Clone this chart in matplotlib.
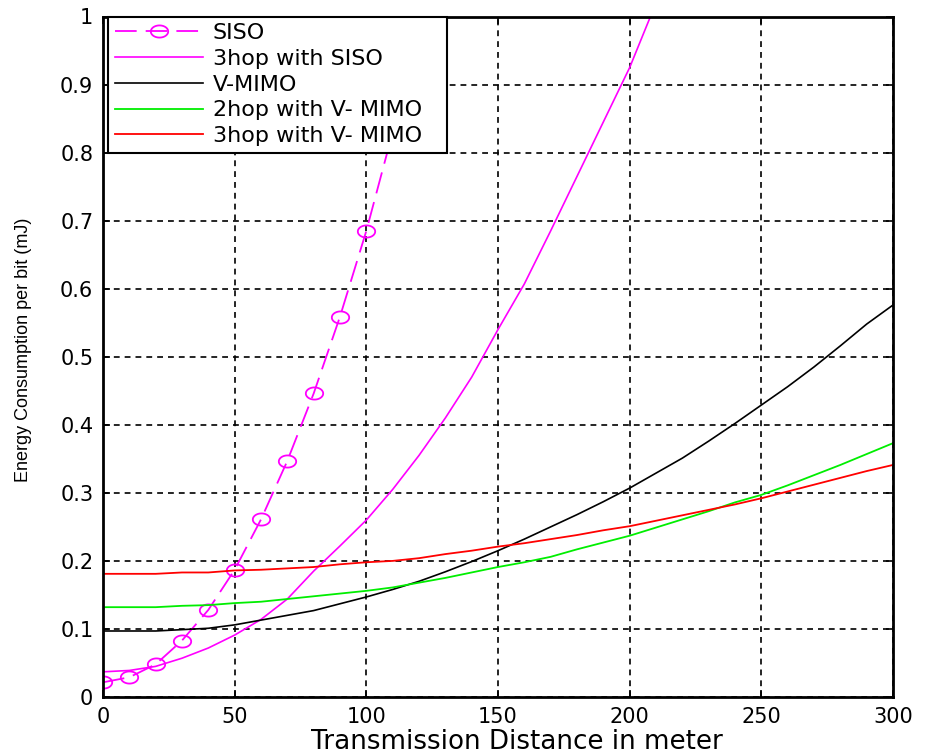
import numpy as np
import matplotlib
matplotlib.use("Agg")
import matplotlib.pyplot as plt
from matplotlib.path import Path
from matplotlib import font_manager
from matplotlib.ticker import FixedLocator, FuncFormatter

# ---------------- data ----------------
siso_x = [0, 10, 20, 30, 40, 50, 60, 70, 80, 90, 100, 110, 120, 130]
siso_y = [0.0216, 0.029, 0.048, 0.083, 0.128, 0.187, 0.261, 0.347, 0.446,
          0.559, 0.685, 0.83, 0.99, 1.16]

dist = list(range(0, 301, 10))

hop3_siso_x = list(range(0, 221, 10))
hop3_siso_y = [0.037, 0.039, 0.045, 0.057, 0.072, 0.091, 0.114, 0.144, 0.185,
               0.222, 0.26, 0.305, 0.355, 0.41, 0.47, 0.54, 0.607, 0.685,
               0.765, 0.845, 0.925, 1.02, 1.12]

vmimo_y = [0.097, 0.097, 0.097, 0.099, 0.101, 0.106, 0.113, 0.120, 0.127,
           0.137, 0.147, 0.158, 0.170, 0.184, 0.199, 0.215, 0.232, 0.250,
           0.268, 0.287, 0.307, 0.329, 0.351, 0.376, 0.402, 0.429, 0.456,
           0.485, 0.516, 0.548, 0.576]

hop2_vmimo_y = [0.132, 0.132, 0.132, 0.134, 0.135, 0.138, 0.140, 0.144, 0.148,
                0.152, 0.156, 0.161, 0.168, 0.175, 0.183, 0.191, 0.198, 0.206,
                0.217, 0.227, 0.237, 0.249, 0.261, 0.273, 0.286, 0.297, 0.311,
                0.326, 0.341, 0.357, 0.373]

hop3_vmimo_y = [0.181, 0.181, 0.181, 0.183, 0.183, 0.186, 0.187, 0.189, 0.191,
                0.195, 0.198, 0.200, 0.204, 0.210, 0.215, 0.221, 0.226, 0.232,
                0.238, 0.245, 0.251, 0.259, 0.267, 0.275, 0.283, 0.292, 0.302,
                0.312, 0.322, 0.332, 0.341]

labels = ["SISO", "3hop with SISO", "V-MIMO", "2hop with V- MIMO", "3hop with V- MIMO"]
x_ticks = [0, 50, 100, 150, 200, 250, 300]
y_ticks = [0, 0.1, 0.2, 0.3, 0.4, 0.5, 0.6, 0.7, 0.8, 0.9, 1.0]

# ---------------- style ----------------
plt.rcParams['font.family'] = ['DejaVu Sans']

names = {f.name for f in font_manager.fontManager.ttflist}
if 'Liberation Sans Narrow' in names:
    ylab_family, ylab_size = 'Liberation Sans Narrow', 15
else:
    ylab_family, ylab_size = 'Liberation Sans', 13

# elliptical open marker (reference circles are stretched horizontally)
t = np.linspace(0, 2 * np.pi, 60)
ell = Path(np.column_stack([np.cos(t), 0.7 * np.sin(t)]), closed=True)

fig = plt.figure(figsize=(9.3, 7.55), dpi=100)
ax = fig.add_axes([103 / 930, 1 - 697 / 755, 790 / 930, 680.5 / 755])

MAG = '#ff00ff'
ax.plot(siso_x, siso_y, color=MAG, lw=1.3, dashes=(12, 5), marker=ell,
        ms=12.5, mfc='none', mec=MAG, mew=1.3, label=labels[0])
ax.plot(hop3_siso_x, hop3_siso_y, color=MAG, lw=1.2, label=labels[1])
ax.plot(dist, vmimo_y, color='black', lw=1.2, label=labels[2])
ax.plot(dist, hop2_vmimo_y, color='#00ee00', lw=1.3, label=labels[3])
ax.plot(dist, hop3_vmimo_y, color='#ff0000', lw=1.3, label=labels[4])

ax.set_xlim(0, 300)
ax.set_ylim(0, 1)
ax.xaxis.set_major_locator(FixedLocator(x_ticks))
ax.yaxis.set_major_locator(FixedLocator(y_ticks))
ax.yaxis.set_major_formatter(FuncFormatter(lambda v, p: f"{v:g}"))

ax.grid(True, color='black', linestyle=(0, (3.5, 3)), linewidth=1.2)
ax.tick_params(direction='in', length=5, width=1.2, top=True, right=True,
               labelsize=15, pad=7)
for s in ax.spines.values():
    s.set_linewidth(2)

ax.set_xlabel("Transmission Distance in meter", fontsize=18.8)
ax.xaxis.set_label_coords(0.524, -0.047)
ax.xaxis.label.set_va('top')
ax.set_ylabel("Energy Consumption per bit (mJ)", fontsize=ylab_size,
              family=ylab_family)
ax.yaxis.set_label_coords(-0.101, 0.51)
ax.yaxis.label.set_va('center')

leg = ax.legend(loc='upper left', fontsize=16, handlelength=3.96,
                handletextpad=0.45, labelspacing=0.26, borderpad=0.3,
                borderaxespad=0.0, fancybox=False, framealpha=1,
                edgecolor='black', mode='expand',
                bbox_to_anchor=(0.0063, 0.0, 0.4291, 1.0))
leg.get_frame().set_linewidth(1.5)

fig.savefig("out.png", dpi=100)
